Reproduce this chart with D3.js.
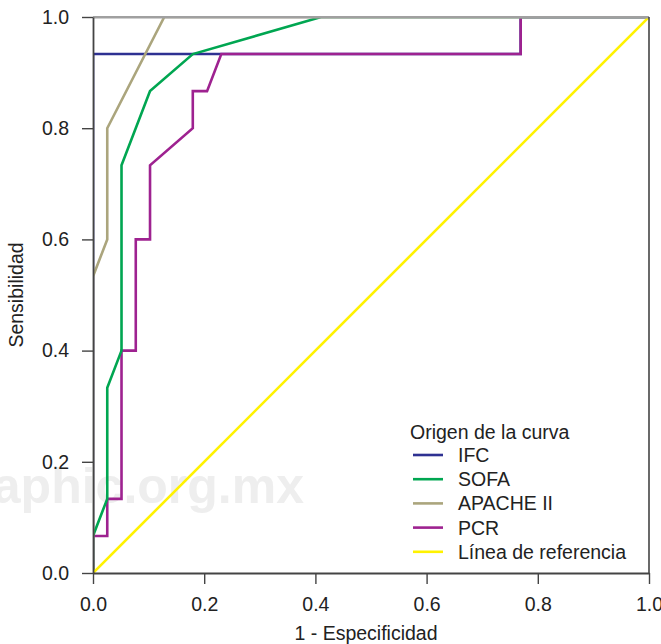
<!DOCTYPE html>
<html>
<head>
<meta charset="utf-8">
<script src="https://cdn.jsdelivr.net/npm/d3@7"></script>
<style>
body { margin: 0; background: #fff; }
svg { display: block; font-family: "Liberation Sans", Arial, Helvetica, sans-serif; }
</style>
</head>
<body>
<svg id="chart" width="661" height="644"></svg>
<script>
// Data (1 - especificidad, sensibilidad)
const seriesNames = ["IFC", "SOFA", "APACHE II", "PCR", "Línea de referencia"];
const seriesColors = ["#2e3192", "#00a651", "#aba57d", "#9e2290", "#fff200"];
const ifcPoints = [[0,0],[0,14/15],[30/39,14/15],[30/39,1],[1,1]];
const sofaPoints = [[0,0],[0,1/15],[1/39,2/15],[1/39,5/15],[2/39,6/15],[2/39,11/15],[4/39,13/15],[7/39,14/15],[16/39,1],[1,1]];
const apachePoints = [[0,0],[0,8/15],[1/39,9/15],[1/39,12/15],[5/39,1],[1,1]];
const pcrPoints = [[0,0],[0,1/15],[1/39,1/15],[1/39,2/15],[2/39,2/15],[2/39,6/15],[3/39,6/15],[3/39,9/15],[4/39,9/15],[4/39,11/15],[7/39,12/15],[7/39,13/15],[8/39,13/15],[9/39,14/15],[30/39,14/15],[30/39,1],[1,1]];
const refPoints = [[0,0],[1,1]];
const tickValues = [0, 0.2, 0.4, 0.6, 0.8, 1.0];
const xTitle = "1 - Especificidad";
const yTitle = "Sensibilidad";
const legendTitle = "Origen de la curva";
const watermark = "medigraphic.org.mx";

const svg = d3.select("#chart");
const x = d3.scaleLinear().domain([0, 1]).range([93, 649]);
const y = d3.scaleLinear().domain([0, 1]).range([573, 17]);
const FS = "19.5px";

// watermark
svg.append("text")
  .attr("x", 304).attr("y", 503)
  .attr("text-anchor", "end")
  .attr("font-size", "50px").attr("font-weight", "bold")
  .attr("fill", "#eeeeee")
  .text(watermark);

// clip for curves
svg.append("defs").append("clipPath").attr("id", "plotclip")
  .append("rect").attr("x", x(0)).attr("y", y(1))
  .attr("width", x(1) - x(0)).attr("height", y(0) - y(1));

// curves
const line = d3.line().x(d => x(d[0])).y(d => y(d[1]));
const allSeries = [ifcPoints, sofaPoints, apachePoints, pcrPoints, refPoints];
const drawOrder = [0, 3, 1, 2, 4];
const curves = svg.append("g").attr("clip-path", "url(#plotclip)");
drawOrder.forEach(i => {
  curves.append("path").datum(allSeries[i])
    .attr("d", line)
    .attr("fill", "none")
    .attr("stroke", seriesColors[i])
    .attr("stroke-width", 2.6)
    .attr("stroke-linejoin", "miter");
});

// frame top & right
svg.append("line").attr("x1", x(0)).attr("x2", x(1)).attr("y1", y(1) + 0.3).attr("y2", y(1) + 0.3)
  .attr("stroke", "#a0a0a0").attr("stroke-width", 2.4);
svg.append("line").attr("x1", x(1)).attr("x2", x(1)).attr("y1", y(1)).attr("y2", y(0))
  .attr("stroke", "#444").attr("stroke-width", 1.6);

// axes
const fmt = d3.format(".1f");
const xAxis = svg.append("g").attr("transform", `translate(0,${y(0)})`)
  .call(d3.axisBottom(x).tickValues(tickValues).tickFormat(fmt).tickSize(11).tickPadding(13).tickSizeOuter(0));
const yAxis = svg.append("g").attr("transform", `translate(${x(0)},0)`)
  .call(d3.axisLeft(y).tickValues(tickValues).tickFormat(fmt).tickSize(11).tickPadding(13).tickSizeOuter(0));
[xAxis, yAxis].forEach(g => {
  g.select(".domain").attr("stroke", "#444").attr("stroke-width", 1.8);
  g.selectAll(".tick line").attr("stroke", "#444").attr("stroke-width", 1.4);
  g.selectAll(".tick text").attr("font-size", FS).attr("fill", "#222")
    .attr("font-family", "'Liberation Sans', Arial, sans-serif");
});

// titles
svg.append("text").attr("x", 366).attr("y", 640).attr("text-anchor", "middle")
  .attr("font-size", FS).attr("fill", "#222").text(xTitle);
svg.append("text").attr("transform", `translate(23,${(y(0)+y(1))/2}) rotate(-90)`)
  .attr("text-anchor", "middle").attr("font-size", FS).attr("fill", "#222").text(yTitle);

// legend
const lg = svg.append("g");
lg.append("text").attr("x", 410).attr("y", 439).attr("font-size", FS).attr("fill", "#222").text(legendTitle);
seriesNames.forEach((name, i) => {
  const cy = 455 + i * 24.2;
  lg.append("line").attr("x1", 413).attr("x2", 443).attr("y1", cy).attr("y2", cy)
    .attr("stroke", seriesColors[i]).attr("stroke-width", 2.6);
  lg.append("text").attr("x", 458).attr("y", cy + 7).attr("font-size", FS).attr("fill", "#222").text(name);
});
</script>
</body>
</html>
